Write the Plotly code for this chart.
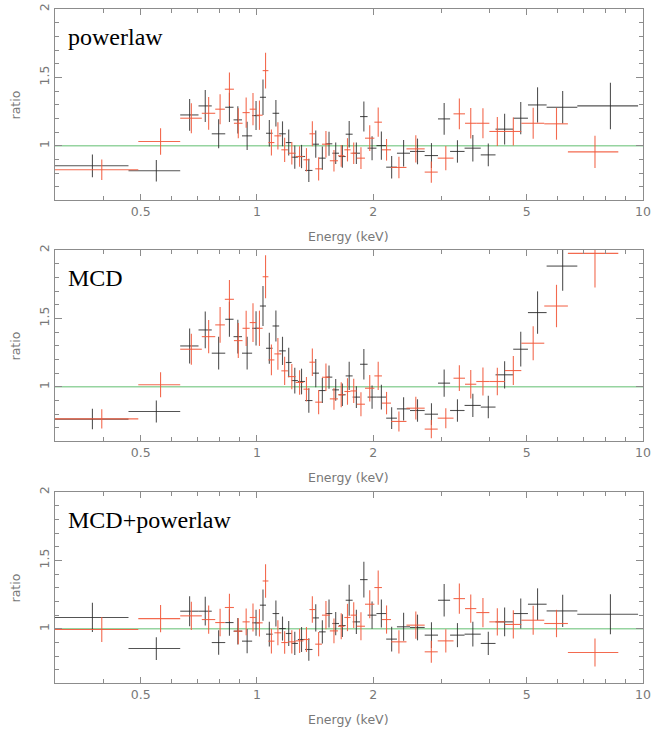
import math
import plotly.graph_objects as go

# ---------------- data ----------------
# energy bin edges (keV)
black_edges = [0.285, 0.465, 0.633, 0.706, 0.764, 0.828, 0.87, 0.915, 0.972, 1.018,
               1.056, 1.098, 1.142, 1.188, 1.23, 1.277, 1.333, 1.393, 1.448, 1.507,
               1.568, 1.632, 1.698, 1.77, 1.85, 1.935, 2.04, 2.162, 2.305, 2.492,
               2.72, 2.945, 3.165, 3.45, 3.8, 4.15, 4.612, 5.035, 5.628, 6.759,
               9.71]
red_edges = [0.30, 0.493, 0.633, 0.72, 0.78, 0.826, 0.872, 0.918, 0.958, 0.996,
             1.035, 1.071, 1.11, 1.157, 1.203, 1.26, 1.32, 1.368, 1.416, 1.474,
             1.545, 1.622, 1.685, 1.748, 1.815, 1.905, 2.015, 2.108, 2.225, 2.44,
             2.72, 2.94, 3.23, 3.46, 3.7, 4.0, 4.39, 4.84, 5.55, 6.39,
             8.63]

# powerlaw model
black_powerlaw = [0.854, 0.818, 1.226, 1.292, 1.088, 1.282, 1.19, 1.073, 1.221, 1.355,
                  1.092, 1.238, 1.088, 1.024, 0.917, 0.922, 0.82, 1.012, 0.91, 1.015,
                  0.946, 0.922, 1.085, 0.946, 1.214, 0.983, 1.002, 0.844, 0.946, 0.959,
                  0.929, 1.197, 0.959, 0.983, 0.934, 1.122, 1.202, 1.299, 1.282, 1.292]
black_powerlaw_err = [0.083, 0.079, 0.116, 0.117, 0.106, 0.107, 0.10, 0.103, 0.106, 0.13,
                      0.097, 0.097, 0.091, 0.095, 0.085, 0.085, 0.085, 0.10, 0.085, 0.088,
                      0.079, 0.082, 0.097, 0.079, 0.11, 0.088, 0.103, 0.082, 0.097, 0.094,
                      0.091, 0.116, 0.082, 0.097, 0.083, 0.112, 0.118, 0.129, 0.119, 0.17]
red_powerlaw = [0.825, 1.032, 1.202, 1.238, 1.268, 1.414, 1.165, 1.243, 1.268, 1.224,
                1.55, 1.024, 1.073, 0.971, 0.946, 0.922, 0.898, 1.088, 0.832, 1.012,
                0.891, 0.927, 0.971, 0.946, 0.91, 1.056, 1.173, 0.971, 0.842, 0.978,
                0.808, 0.91, 1.234, 1.165, 1.165, 1.105, 1.105, 1.165, 1.161, 0.956]
red_powerlaw_err = [0.075, 0.097, 0.11, 0.12, 0.11, 0.122, 0.11, 0.11, 0.118, 0.107,
                    0.131, 0.095, 0.10, 0.089, 0.082, 0.075, 0.085, 0.091, 0.085, 0.097,
                    0.079, 0.079, 0.085, 0.079, 0.079, 0.094, 0.107, 0.079, 0.079, 0.10,
                    0.077, 0.088, 0.113, 0.112, 0.11, 0.106, 0.103, 0.113, 0.116, 0.118]

# MCD model
black_mcd = [0.764, 0.82, 1.299, 1.416, 1.246, 1.494, 1.367, 1.246, 1.428, 1.591,
             1.282, 1.445, 1.263, 1.178, 1.046, 1.039, 0.90, 1.10, 0.973, 1.071,
             0.978, 0.942, 1.08, 0.925, 1.165, 0.925, 0.925, 0.771, 0.839, 0.827,
             0.80, 1.027, 0.827, 0.864, 0.852, 1.088, 1.275, 1.543, 1.883, 2.35]
black_mcd_err = [0.075, 0.08, 0.128, 0.134, 0.12, 0.128, 0.124, 0.12, 0.125, 0.146,
                 0.114, 0.113, 0.103, 0.107, 0.094, 0.094, 0.089, 0.103, 0.091, 0.085,
                 0.079, 0.083, 0.103, 0.079, 0.112, 0.085, 0.091, 0.079, 0.085, 0.082,
                 0.08, 0.10, 0.082, 0.085, 0.082, 0.10, 0.127, 0.155, 0.18, 0.25]
red_mcd = [0.766, 1.015, 1.275, 1.367, 1.453, 1.64, 1.338, 1.428, 1.47, 1.428,
           1.805, 1.197, 1.241, 1.117, 1.075, 1.032, 0.983, 1.18, 0.888, 1.07,
           0.912, 0.942, 0.966, 0.97, 0.873, 0.99, 1.08, 0.881, 0.747, 0.844,
           0.691, 0.771, 1.063, 1.019, 1.039, 1.039, 1.119, 1.319, 1.591, 1.976]
red_mcd_err = [0.07, 0.091, 0.113, 0.122, 0.131, 0.141, 0.128, 0.129, 0.142, 0.129,
               0.158, 0.113, 0.116, 0.103, 0.092, 0.089, 0.089, 0.10, 0.088, 0.10,
               0.08, 0.091, 0.097, 0.089, 0.088, 0.097, 0.103, 0.082, 0.073, 0.083,
               0.066, 0.073, 0.094, 0.105, 0.103, 0.10, 0.106, 0.124, 0.155, 0.25]

# MCD+powerlaw model
black_mcdpl = [1.083, 0.856, 1.129, 1.129, 0.90, 1.046, 0.983, 0.91, 1.044, 1.173,
               0.961, 1.112, 1.002, 0.966, 0.893, 0.922, 0.849, 1.08, 0.978, 1.112,
               1.039, 1.024, 1.209, 1.051, 1.36, 1.10, 1.112, 0.925, 1.015, 1.01,
               0.954, 1.209, 0.954, 0.961, 0.893, 1.051, 1.112, 1.18, 1.131, 1.107]
black_mcdpl_err = [0.107, 0.083, 0.11, 0.105, 0.09, 0.097, 0.097, 0.089, 0.095, 0.114,
                   0.091, 0.095, 0.088, 0.092, 0.085, 0.091, 0.083, 0.10, 0.085, 0.103,
                   0.085, 0.083, 0.113, 0.088, 0.13, 0.10, 0.103, 0.091, 0.103, 0.094,
                   0.094, 0.119, 0.088, 0.09, 0.085, 0.105, 0.11, 0.116, 0.118, 0.146]
red_mcdpl = [0.995, 1.075, 1.095, 1.068, 1.046, 1.156, 0.983, 1.051, 1.083, 1.044,
             1.35, 0.91, 0.971, 0.90, 0.905, 0.912, 0.922, 1.141, 0.888, 1.10,
             0.985, 1.019, 1.083, 1.10, 1.019, 1.18, 1.302, 1.068, 0.905, 1.027,
             0.832, 0.912, 1.221, 1.148, 1.119, 1.051, 1.032, 1.063, 1.039, 0.827]
red_mcdpl_err = [0.091, 0.10, 0.103, 0.103, 0.10, 0.10, 0.095, 0.097, 0.103, 0.10,
                 0.122, 0.091, 0.091, 0.083, 0.085, 0.089, 0.091, 0.097, 0.089, 0.103,
                 0.091, 0.095, 0.10, 0.094, 0.103, 0.103, 0.125, 0.103, 0.085, 0.10,
                 0.08, 0.085, 0.11, 0.103, 0.107, 0.10, 0.103, 0.106, 0.10, 0.103]

panel_names = ["powerlaw", "MCD", "MCD+powerlaw"]
x_tick_vals = [0.5, 1, 2, 5, 10]
x_tick_text = ["0.5", "1", "2", "5", "10"]
x_minor_vals = [0.3, 0.4, 0.6, 0.7, 0.8, 0.9, 3, 4, 6, 7, 8, 9]
y_tick_vals = [1, 1.5, 2]
y_tick_text = ["1", "1.5", "2"]
y_minor_vals = [0.6, 0.7, 0.8, 0.9, 1.1, 1.2, 1.3, 1.4, 1.6, 1.7, 1.8, 1.9]

# ---------------- styling ----------------
BLACK = "rgba(40,40,40,0.8)"
RED = "rgba(242,90,60,0.9)"
GREEN = "rgb(150,212,160)"
AXC = "rgb(140,140,140)"
TXC = "rgb(120,120,120)"
SANS = "DejaVu Sans"

W, H = 651, 732
ML, MR, MT, MB = 55, 8, 9, 49
PW, PH = W - ML - MR, H - MT - MB


def py2paper(py):
    return (H - MB - py) / PH


panel_px = [(9, 200), (250, 441), (492, 683)]


def centers(edges):
    return [(edges[i] + edges[i + 1]) / 2 for i in range(len(edges) - 1)]


def halfw(edges):
    return [(edges[i + 1] - edges[i]) / 2 for i in range(len(edges) - 1)]


bx, bxe = centers(black_edges), halfw(black_edges)
rx, rxe = centers(red_edges), halfw(red_edges)

series = [
    (black_powerlaw, black_powerlaw_err, red_powerlaw, red_powerlaw_err),
    (black_mcd, black_mcd_err, red_mcd, red_mcd_err),
    (black_mcdpl, black_mcdpl_err, red_mcdpl, red_mcdpl_err),
]

fig = go.Figure()
annotations = []
shapes = []

for i, (bv, be, rv, re_) in enumerate(series):
    n = i + 1
    xa = "x" if n == 1 else f"x{n}"
    ya = "y" if n == 1 else f"y{n}"
    for xs, xe, ys, ye, col in ((bx, bxe, bv, be, BLACK), (rx, rxe, rv, re_, RED)):
        fig.add_trace(go.Scatter(
            x=xs, y=ys, mode="markers",
            marker=dict(size=1, color=col, opacity=0),
            error_x=dict(type="data", array=xe, symmetric=True, width=0,
                         color=col, thickness=1.1),
            error_y=dict(type="data", array=ye, symmetric=True, width=0,
                         color=col, thickness=1.1),
            xaxis=xa, yaxis=ya, showlegend=False, hoverinfo="skip"))

    top, bot = panel_px[i]
    dom = [py2paper(bot), py2paper(top)]
    xkey = "xaxis" if n == 1 else f"xaxis{n}"
    ykey = "yaxis" if n == 1 else f"yaxis{n}"
    fig.update_layout(**{
        xkey: dict(type="log", range=[math.log10(0.3), 1.0], domain=[0, 1], anchor=ya,
                   automargin=False,
                   tickmode="array", tickvals=x_tick_vals, ticktext=x_tick_text,
                   ticks="inside", ticklen=6, tickwidth=1, tickcolor=AXC,
                   minor=dict(tickmode="array", tickvals=x_minor_vals, ticks="inside",
                              ticklen=4, tickcolor=AXC, showgrid=False),
                   showline=True, linecolor=AXC, linewidth=1, mirror="ticks",
                   showgrid=False, zeroline=False,
                   tickfont=dict(family=SANS, size=12.5, color=TXC)),
        ykey: dict(range=[0.604, 2.0005], domain=dom, anchor=xa,
                   automargin=False,
                   tickmode="array", tickvals=y_tick_vals, ticktext=y_tick_text,
                   tickangle=-90,
                   ticks="inside", ticklen=7, tickwidth=1, tickcolor=AXC,
                   minor=dict(tickmode="array", tickvals=y_minor_vals, ticks="inside",
                              ticklen=4, tickcolor=AXC, showgrid=False),
                   showline=True, linecolor=AXC, linewidth=1, mirror="ticks",
                   showgrid=False, zeroline=False,
                   tickfont=dict(family=SANS, size=12.5, color=TXC)),
    })

    shapes.append(dict(type="line", xref=f"{xa} domain", yref=ya, x0=0, x1=1, y0=1, y1=1,
                       line=dict(color=GREEN, width=1.5), layer="below"))

    # model name
    annotations.append(dict(text=panel_names[i], xref="paper", yref="paper",
                            x=(66 - ML) / PW, y=py2paper(top + 28), xanchor="left",
                            yanchor="middle", showarrow=False,
                            font=dict(family="Liberation Serif", size=24, color="black")))
    # y label
    annotations.append(dict(text="ratio", xref="paper", yref="paper",
                            x=(15 - ML) / PW, y=py2paper((top + bot) / 2), xanchor="center",
                            yanchor="middle", textangle=-90, showarrow=False,
                            font=dict(family=SANS, size=12.5, color=TXC)))
    # x label
    annotations.append(dict(text="Energy (keV)", xref="paper", yref="paper",
                            x=(348 - ML) / PW, y=py2paper(bot + 36), xanchor="center",
                            yanchor="middle", showarrow=False,
                            font=dict(family=SANS, size=12.5, color=TXC)))

fig.update_layout(width=W, height=H, margin=dict(l=ML, r=MR, t=MT, b=MB, autoexpand=False),
                  paper_bgcolor="white", plot_bgcolor="white", autosize=False,
                  annotations=annotations, shapes=shapes, showlegend=False)

fig.write_html("out.html",
               config={"responsive": False, "displayModeBar": False},
               post_script=("document.documentElement.style.overflow='hidden';"
                            "document.body.style.overflow='hidden';"
                            "document.body.style.margin='0';"
                            "document.body.style.padding='0';"))
